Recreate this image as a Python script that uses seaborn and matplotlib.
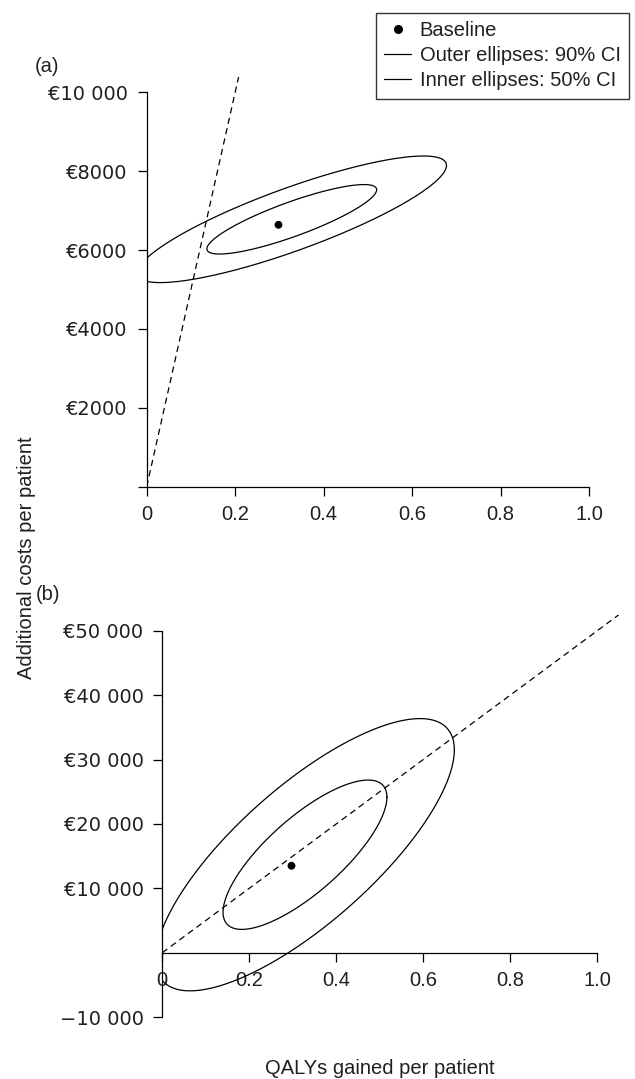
import numpy as np
import pandas as pd
import seaborn as sns
import matplotlib
matplotlib.use("Agg")
import matplotlib.pyplot as plt
from matplotlib.lines import Line2D

# ---------------- data ----------------
panel_tags = ["(a)", "(b)"]
wtp_threshold = [50000, 50000]            # dashed ICER threshold line (EUR per QALY)
baseline_qaly = [0.298, 0.297]
baseline_cost = [6640, 13500]
# bivariate-normal summary of the cost-effectiveness plane (per panel)
ell_qaly_mean = [0.328, 0.328]
ell_cost_mean = [6780, 15215]
ell_qaly_sd = [0.163, 0.160]
ell_cost_sd = [748, 9850]
ell_corr = [0.85, 0.77]
ci_levels = [0.90, 0.50]                  # outer / inner ellipses

yticks_a = [0, 2000, 4000, 6000, 8000, 10000]
yticklabels_a = ["", "€2000", "€4000", "€6000", "€8000", "€10 000"]
yticks_b = [-10000, 10000, 20000, 30000, 40000, 50000]
yticklabels_b = ["−10 000", "€10 000", "€20 000", "€30 000", "€40 000", "€50 000"]
xticks = [0, 0.2, 0.4, 0.6, 0.8, 1.0]
xticklabels = ["0", "0.2", "0.4", "0.6", "0.8", "1.0"]

legend_labels = ["Baseline", "Outer ellipses: 90% CI", "Inner ellipses: 50% CI"]
xlabel = "QALYs gained per patient"
ylabel = "Additional costs per patient"

# ---------------- style ----------------
sns.set_style("ticks")
plt.rcParams["font.family"] = ["Liberation Sans", "DejaVu Sans"]
FS = 14.5
TXT = "#231f20"

W, H = 635, 1079
fig = plt.figure(figsize=(W / 100, H / 100), dpi=100)

def px_axes(left, right, top, bottom):
    return fig.add_axes([left / W, 1 - bottom / H, (right - left) / W, (bottom - top) / H])

ax_a = px_axes(146.7, 146.7 + 1.05 * 442.3, 486.7 - 1.04 * 394.4, 486.7)
ax_b = px_axes(162.3, 162.3 + 1.05 * 435.0, 952.7 - 5.25 * 64.4, 952.7 + 1.05 * 64.4)

limits = [((0, 1.05), (0, 10400)), ((0, 1.05), (-10500, 52500))]
yt = [(yticks_a, yticklabels_a), (yticks_b, yticklabels_b)]
spine_y = [(0, 10000), (-10000, 50000)]

t = np.linspace(0, 2 * np.pi, 721)
for i, ax in enumerate([ax_a, ax_b]):
    # ellipses
    for lvl in ci_levels:
        k = np.sqrt(-2 * np.log(1 - lvl))
        ex = ell_qaly_mean[i] + k * ell_qaly_sd[i] * np.cos(t)
        ey = ell_cost_mean[i] + k * ell_cost_sd[i] * (
            ell_corr[i] * np.cos(t) + np.sqrt(1 - ell_corr[i] ** 2) * np.sin(t))
        df = pd.DataFrame({"q": ex, "c": ey})
        sns.lineplot(data=df, x="q", y="c", sort=False, estimator=None,
                     color="black", linewidth=0.9, ax=ax)
    # threshold line
    ax.axline((0, 0), slope=wtp_threshold[i], color="black", linewidth=0.9,
              linestyle=(0, (5, 3.5)))
    # baseline point
    sns.scatterplot(x=[baseline_qaly[i]], y=[baseline_cost[i]], color="black",
                    s=32, edgecolor="none", ax=ax, zorder=5)

    ax.set_xlim(*limits[i][0])
    ax.set_ylim(*limits[i][1])
    ax.set_xticks(xticks)
    ax.set_xticklabels(xticklabels)
    ax.set_yticks(yt[i][0])
    ax.set_yticklabels(yt[i][1], family=["DejaVu Sans"], fontsize=14)
    ax.set_xlabel("")
    ax.set_ylabel("")
    for s in ["top", "right"]:
        ax.spines[s].set_visible(False)
    ax.spines["left"].set_bounds(*spine_y[i])
    ax.spines["bottom"].set_bounds(0, 1.0)
    ax.spines["bottom"].set_position(("data", 0))
    for s in ["left", "bottom"]:
        ax.spines[s].set_color("black")
        ax.spines[s].set_linewidth(0.9)
    ax.tick_params(axis="both", direction="out", length=6.5, width=0.9,
                   color="black", labelcolor=TXT, pad=7)
    ax.tick_params(axis="x", labelsize=FS)
    ax.set_facecolor("none")

# panel tags
fig.text(47 / W, 1 - 67 / H, panel_tags[0], fontsize=FS, color=TXT, ha="center", va="center")
fig.text(48 / W, 1 - 595 / H, panel_tags[1], fontsize=FS, color=TXT, ha="center", va="center")

# axis titles
fig.text(26.5 / W, 1 - 557.5 / H, ylabel, rotation=90, fontsize=FS, color=TXT,
         ha="center", va="center")
fig.text(380 / W, 1 - 1068 / H, xlabel, fontsize=FS, color=TXT, ha="center", va="center")

# legend
handles = [Line2D([], [], marker="o", linestyle="none", color="black", markersize=5.5),
           Line2D([], [], color="black", linewidth=0.9),
           Line2D([], [], color="black", linewidth=0.9)]
leg = fig.legend(handles, legend_labels, loc="upper left",
                 bbox_to_anchor=(376 / W, 1 - 12.7 / H), frameon=True, fancybox=False,
                 edgecolor="#333333", framealpha=1, fontsize=FS, handlelength=1.3,
                 handletextpad=0.45, borderpad=0.42, labelspacing=0.3,
                 borderaxespad=0)
leg.get_frame().set_linewidth(1.0)
for txt in leg.get_texts():
    txt.set_color(TXT)

fig.savefig("out.png", dpi=100, facecolor="white")
